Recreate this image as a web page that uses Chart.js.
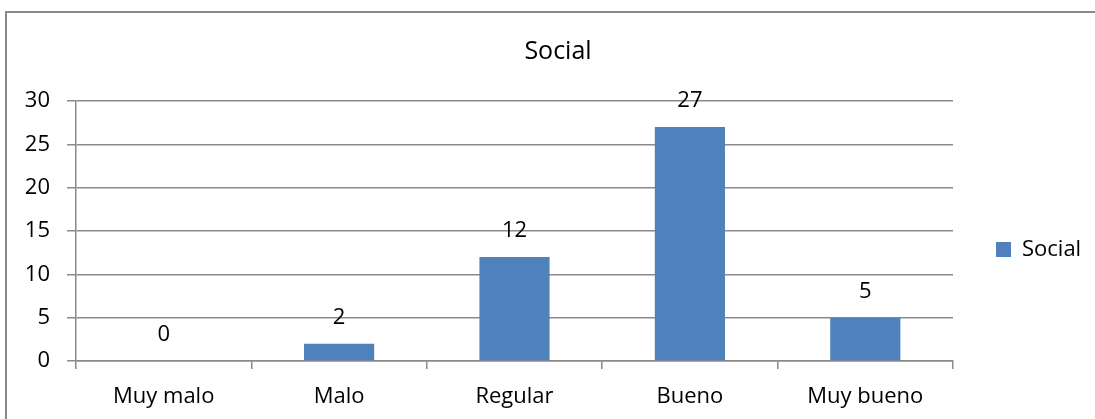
<!DOCTYPE html>
<html>
<head>
<meta charset="utf-8">
<title>Social</title>
<script src="https://cdn.jsdelivr.net/npm/chart.js"></script>
<style>
    html, body { margin: 0; padding: 0; background: #fff; overflow: hidden; }
    #clip { position: absolute; left: 0; top: 0; width: 1095px; height: 419px; overflow: hidden; }
    #frame {
        position: absolute; left: 5px; top: 11px;
        width: 1090px; height: 408px;
        border-top: 2px solid #8a8a8a; border-left: 2px solid #8a8a8a;
        box-sizing: border-box;
    }
    #wrap { position: absolute; left: 0; top: 0; width: 1116px; height: 419px; }
</style>
</head>
<body>
<div id="clip">
    <div id="frame"></div>
    <div id="wrap"><canvas id="chart"></canvas></div>
</div>
<script>
    // Chart data
    const chartTitle = "Social";
    const seriesName = "Social";
    const categories = ["Muy malo", "Malo", "Regular", "Bueno", "Muy bueno"];
    const socialValues = [0, 2, 12, 27, 5];
    const yTicks = [0, 5, 10, 15, 20, 25, 30];

    const FONT = '"Open Sans", sans-serif';
    const GRID = '#8a8a8a';
    const LEGEND_W = 163;   // space kept on the right for the legend
    const LEGEND_DROP = 40; // Excel centres the legend on the whole chart, not the plot

    Chart.defaults.font.family = FONT;
    Chart.defaults.color = '#000';

    // Fixed legend width so the plot ends where Excel put it, and move it down a bit
    const legendPlace = {
        id: 'legendPlace',
        beforeLayout(chart) {
            const lg = chart.legend;
            if (lg && !lg._wPatched) {
                const fit = lg.fit;
                lg.fit = function () {
                    fit.call(this);
                    this.width = LEGEND_W;
                };
                lg._wPatched = true;
            }
        },
        afterLayout(chart) {
            const lg = chart.legend;
            if (lg) {
                lg.top += LEGEND_DROP;
                lg.bottom += LEGEND_DROP;
            }
        }
    };

    // Value labels above each bar
    const valueLabels = {
        id: 'valueLabels',
        afterDatasetsDraw(chart) {
            const ctx = chart.ctx;
            const meta = chart.getDatasetMeta(0);
            ctx.save();
            ctx.font = '22px ' + FONT;
            ctx.fillStyle = '#000';
            ctx.textAlign = 'center';
            ctx.textBaseline = 'middle';
            meta.data.forEach((bar, i) => {
                ctx.fillText(String(socialValues[i]), bar.x, bar.y - 26);
            });
            ctx.restore();
        }
    };

    new Chart(document.getElementById('chart'), {
        type: 'bar',
        data: {
            labels: categories,
            datasets: [{
                label: seriesName,
                data: socialValues,
                backgroundColor: '#4f81bd',
                borderWidth: 0,
                barPercentage: 0.4,
                categoryPercentage: 1.0
            }]
        },
        options: {
            responsive: true,
            maintainAspectRatio: false,
            animation: false,
            layout: { padding: 0 },
            plugins: {
                title: {
                    display: true,
                    text: chartTitle,
                    color: '#000',
                    font: { size: 25, weight: 'normal' },
                    padding: { top: 37, bottom: 34 }
                },
                legend: {
                    position: 'right',
                    labels: {
                        boxWidth: 15,
                        boxHeight: 15,
                        padding: 43,
                        color: '#000',
                        font: { size: 22 }
                    }
                },
                tooltip: { enabled: false }
            },
            scales: {
                x: {
                    grid: {
                        display: true,
                        drawOnChartArea: false,
                        drawTicks: true,
                        tickLength: 8,
                        offset: true,
                        color: GRID,
                        lineWidth: 1.5
                    },
                    border: { display: true, color: GRID, width: 1.5 },
                    ticks: { font: { size: 22 }, color: '#000', padding: 15, maxRotation: 0 },
                    afterFit(scale) { scale.height = 58; }
                },
                y: {
                    min: yTicks[0],
                    max: yTicks[yTicks.length - 1],
                    afterBuildTicks(scale) {
                        scale.ticks = yTicks.map(v => ({ value: v }));
                    },
                    grid: {
                        color: GRID,
                        lineWidth: 1.5,
                        drawTicks: true,
                        tickLength: 9
                    },
                    border: { display: true, color: GRID, width: 1.5 },
                    ticks: { font: { size: 22 }, color: '#000', padding: 17 },
                    afterFit(scale) { scale.width = 76; }
                }
            }
        },
        plugins: [legendPlace, valueLabels]
    });
</script>
</body>
</html>
